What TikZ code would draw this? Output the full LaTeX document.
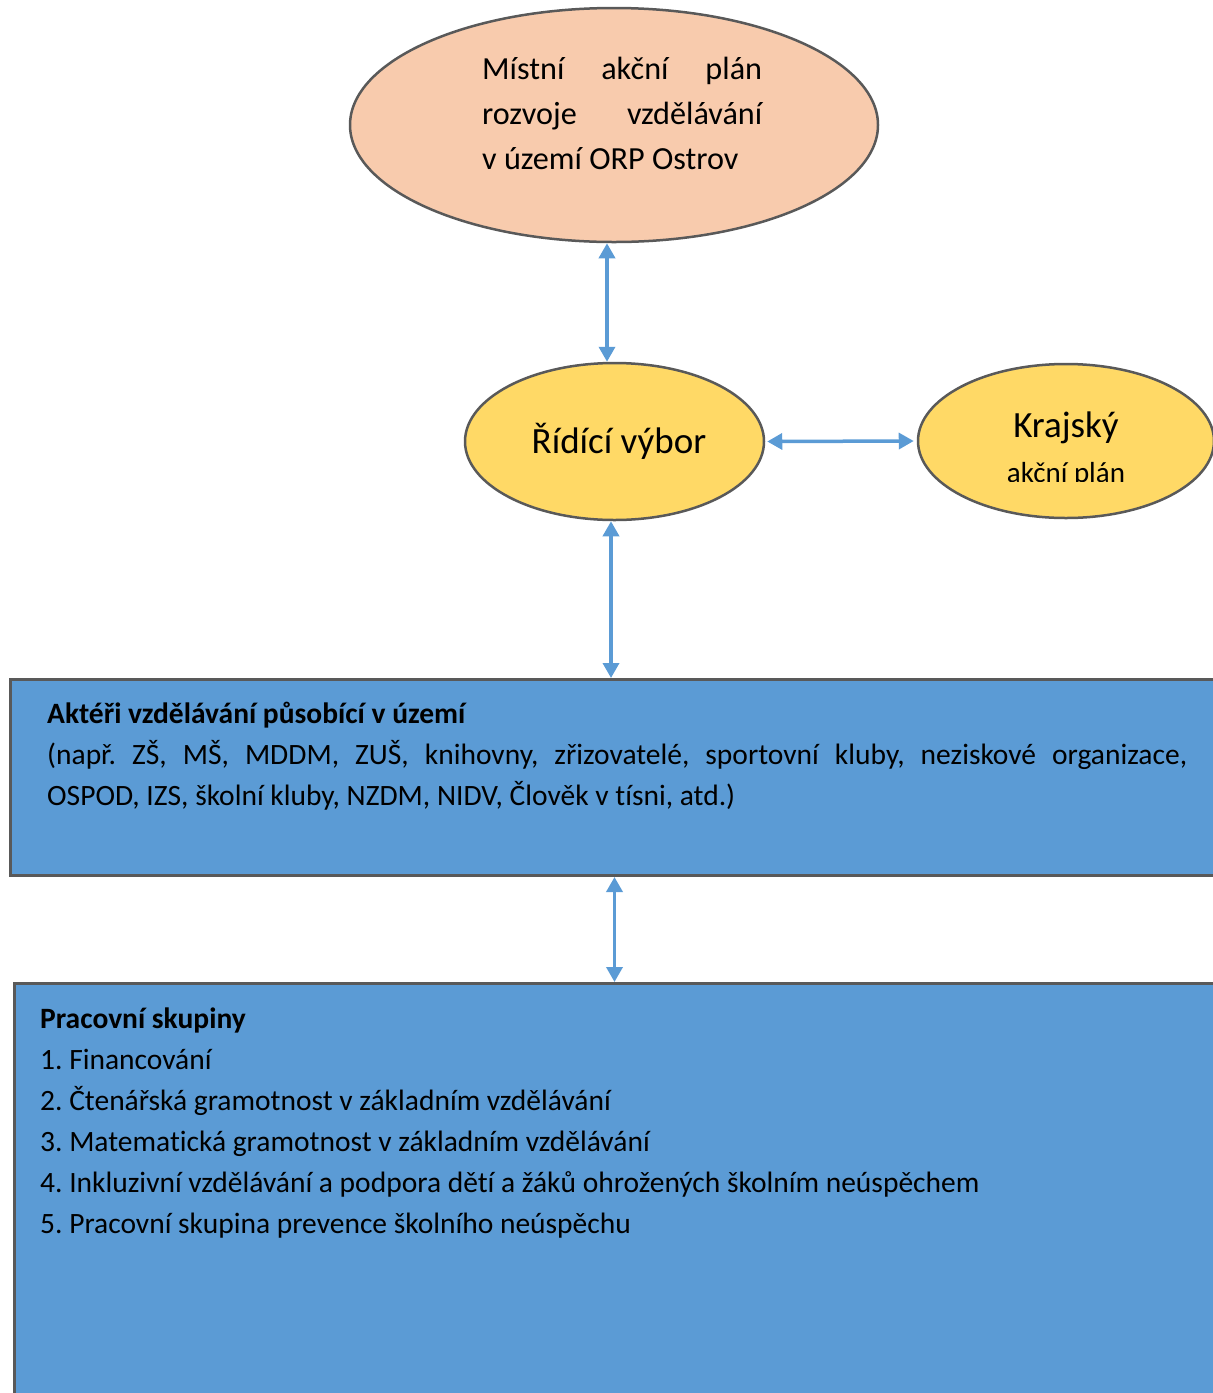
\documentclass[tikz,border=0pt]{standalone}
\usepackage{fontspec}
\setmainfont{Carlito}[Ligatures={NoCommon}]
\usetikzlibrary{arrows.meta,shapes.geometric,calc}
\definecolor{peach}{HTML}{F8CBAD}
\definecolor{gold}{HTML}{FFD966}
\definecolor{steel}{HTML}{5B9BD5}
\definecolor{rim}{HTML}{595959}
\frenchspacing
\begin{document}
\begin{tikzpicture}[x=1pt,y=-1pt,
  oval/.style={ellipse, draw=rim, line width=2.5pt, inner sep=0pt},
  panel/.style={rectangle, draw=rim, line width=3pt, fill=steel, inner sep=0pt, anchor=north west},
  link/.style={draw=steel, line width=3.5pt, {Triangle[width=16pt,length=15pt]}-{Triangle[width=16pt,length=15pt]}},
  txt/.style={anchor=base west, inner sep=0pt},
  bodytxt/.style={txt, font=\fontsize{29.5}{41}\selectfont},
  headtxt/.style={txt, font=\fontsize{29.5}{41}\selectfont\bfseries},
]
\useasboundingbox (0,0) rectangle (1213,1393);
\begin{scope}
\clip (0,0) rectangle (1213,1393);
% ellipses
\node[oval, fill=peach, minimum width=528pt, minimum height=234pt] (map) at (614,125) {};
\node[oval, fill=gold, minimum width=299pt, minimum height=157pt] (rv) at (614.5,441.5) {};
\node[oval, fill=gold, minimum width=296pt, minimum height=154pt] (kap) at (1066,441) {};
% panels
\node[panel, minimum width=1216pt, minimum height=196pt] (act) at (9,678) {};
\node[panel, minimum width=1215pt, minimum height=500pt] (pws) at (13,982) {};
\end{scope}
% texts in top ellipse
\node[txt, font=\fontsize{32.2}{45}\selectfont] (m1) at (482,79) {\makebox[280pt][s]{Místní akční plán}};
\node[txt, font=\fontsize{32.2}{45}\selectfont] (m2) at (482,124) {\makebox[280pt][s]{rozvoje vzdělávání}};
\node[txt, font=\fontsize{32.2}{45}\selectfont] (m3) at (482,169) {v území ORP Ostrov};
% Řídící výbor
\node[anchor=base, inner sep=0pt, font=\fontsize{37}{44}\selectfont] (rvt) at (619,453) {Řídící výbor};
% Krajský akční plán
\node[anchor=base, inner sep=0pt, font=\fontsize{37}{44}\selectfont] (k1) at (1066,437) {Krajský};
\begin{scope}
\clip (900,0) rectangle (1213,481);
\node[anchor=base, inner sep=0pt, font=\fontsize{29}{36}\selectfont] (k2) at (1066,482.5) {akční plán};
\end{scope}
% panel 1 text
\node[headtxt] (a1) at (47,723) {Aktéři vzdělávání působící v území};
\node[bodytxt] (a2) at (47,764) {\makebox[1140pt][s]{(např. ZŠ, MŠ, MDDM, ZUŠ, knihovny, zřizovatelé, sportovní kluby, neziskové organizace,}};
\node[bodytxt] (a3) at (47,805) {OSPOD, IZS, školní kluby, NZDM, NIDV, Člověk v tísni, atd.)};
% panel 2 text
\node[headtxt] (p0) at (40,1028) {Pracovní skupiny};
\node[bodytxt] (p1) at (40,1069) {1. Financování};
\node[bodytxt] (p2) at (40,1110) {2. Čtenářská gramotnost v základním vzdělávání};
\node[bodytxt] (p3) at (40,1151) {3. Matematická gramotnost v základním vzdělávání};
\node[bodytxt] (p4) at (40,1192) {4. Inkluzivní vzdělávání a podpora dětí a žáků ohrožených školním neúspěchem};
\node[bodytxt] (p5) at (40,1233) {5. Pracovní skupina prevence školního neúspěchu};
% connectors
\draw[link] ($(map.south)+(-7,0)$) -- ($(rv.north)+(-7.5,0)$);
\draw[link] ($(rv.south)+(-3.5,0)$) -- ($(rv.south |- act.north)+(-3.5,0)$);
\draw[link] ($(rv.east)+(2,0)$) -- ($(kap.west)+(-3,0)$);
\draw[link] ($(act.south)+(-4,0)$) -- ($(act.south |- pws.north)+(-4,0)$);
\end{tikzpicture}
\end{document}
